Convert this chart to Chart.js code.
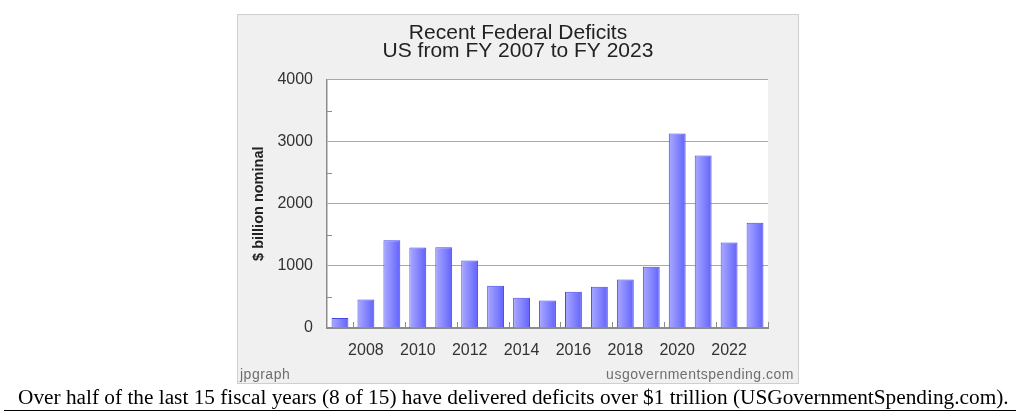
<!DOCTYPE html>
<html>
<head>
<meta charset="utf-8">
<script src="https://cdn.jsdelivr.net/npm/chart.js@4/dist/chart.umd.min.js"></script>
<style>
  body{margin:0;width:1023px;height:419px;background:#fff;position:relative;overflow:hidden;font-family:Arial,"Liberation Sans",sans-serif}
  #panel{position:absolute;left:237px;top:14px;width:560px;height:368px;background:#f0f0f0;border:1px solid #cfcfcf}
  #panel canvas{position:absolute;left:0;top:0}
  .mark{position:absolute;font-size:14px;color:#6e6e6e;line-height:16px;letter-spacing:0.5px}
  #caption{position:absolute;left:4px;width:1012px;top:384px;height:26px;border-bottom:1px solid #000;
    font-family:"Liberation Serif","Times New Roman",serif;font-size:21.3px;line-height:24px;color:#000;white-space:nowrap}
  #caption span{position:absolute;left:14px;top:1px}
</style>
</head>
<body>
<div id="panel">
  <canvas id="deficitChart" width="560" height="368"></canvas>
  <div class="mark" style="left:2px;top:351px">jpgraph</div>
  <div class="mark" style="right:4px;top:351px">usgovernmentspending.com</div>
</div>
<div id="caption"><span>Over half of the last 15 fiscal years (8 of 15) have delivered deficits over $1 trillion (USGovernmentSpending.com).</span></div>

<script>
const years = ['2007','2008','2009','2010','2011','2012','2013','2014','2015','2016','2017','2018','2019','2020','2021','2022','2023'];
const deficits = [161, 459, 1413, 1294, 1300, 1087, 680, 485, 442, 585, 665, 779, 984, 3132, 2775, 1375, 1695];
const yMajor = [0, 1000, 2000, 3000, 4000];
const yMinor = [500, 1500, 2500, 3500];
const barPct = 0.65;
const FONT = 'Arial, "Liberation Sans", sans-serif';

function barFill(c){
  const ch = c.chart, xs = ch.scales && ch.scales.x;
  if(!ch.chartArea || !xs || c.dataIndex === undefined) return '#8585ff';
  const cx = xs.getPixelForValue(c.dataIndex);
  const w = xs.width / years.length * barPct;
  const g = ch.ctx.createLinearGradient(cx - w/2, 0, cx + w/2, 0);
  g.addColorStop(0, '#a9a9ff');
  g.addColorStop(0.45, '#8a8aff');
  g.addColorStop(1, '#6262fb');
  return g;
}

// white plot area, inward minor ticks on both axes
const decor = {
  id:'decor',
  beforeDraw(ch){
    const a = ch.chartArea, c = ch.ctx;
    c.save(); c.fillStyle='#fff'; c.fillRect(a.left, a.top, a.right-a.left, a.bottom-a.top); c.restore();
  },
  afterDraw(ch){
    const a = ch.chartArea, c = ch.ctx, xs = ch.scales.x, ys = ch.scales.y;
    c.save(); c.strokeStyle='#8c8c8c'; c.lineWidth=1;
    yMinor.forEach(v=>{
      const y = Math.round(ys.getPixelForValue(v))+0.5;
      c.beginPath(); c.moveTo(a.left, y); c.lineTo(a.left+5, y); c.stroke();
    });
    for(let k=1;k<=years.length;k+=2){
      const x = Math.round(xs.getPixelForValue(k-0.5))+0.5;
      c.beginPath(); c.moveTo(x, a.bottom); c.lineTo(x, a.bottom-6); c.stroke();
    }
    c.restore();
  }
};

new Chart(document.getElementById('deficitChart'), {
  type:'bar',
  data:{
    labels: years,
    datasets:[{data: deficits, backgroundColor: barFill, borderColor:'#4646ee', borderWidth:1,
      categoryPercentage:1, barPercentage:barPct}]
  },
  options:{
    responsive:false, animation:false, devicePixelRatio:1,
    layout:{padding:0},
    plugins:{
      legend:{display:false}, tooltip:{enabled:false},
      title:{display:true, text:['Recent Federal Deficits','US from FY 2007 to FY 2023'], color:'#222',
        font:{family:FONT, size:21, weight:'normal', lineHeight:0.82},
        padding:{top:10, bottom:20}}
    },
    scales:{
      x:{
        grid:{display:false},
        border:{color:'#8c8c8c', width:2},
        ticks:{color:'#333', padding:5, autoSkip:false, maxRotation:0,
          font:{family:FONT, size:16},
          callback:(v,i)=> (+years[i] % 2 === 0) ? years[i] : ''},
        afterFit:s=>{ s.height = 55; }
      },
      y:{
        min:0, max:4000,
        afterBuildTicks:s=>{ s.ticks = yMajor.map(v=>({value:v})); },
        grid:{color:'#a8a8a8', drawTicks:false},
        border:{color:'#8c8c8c', width:1.5},
        ticks:{color:'#333', padding:14, font:{family:FONT, size:16}, callback:v=>String(v)},
        title:{display:true, text:'$ billion nominal', color:'#222', padding:{top:12, bottom:0},
          font:{family:FONT, size:14.5, weight:'bold'}},
        afterFit:s=>{ s.width = 89; }
      },
      // empty right margin so the title stays centred on the whole panel
      pad:{
        type:'linear', position:'right', display:true,
        grid:{display:false}, border:{display:false}, ticks:{display:false},
        afterFit:s=>{ s.width = 30; }
      }
    }
  },
  plugins:[decor]
});
</script>
</body>
</html>
